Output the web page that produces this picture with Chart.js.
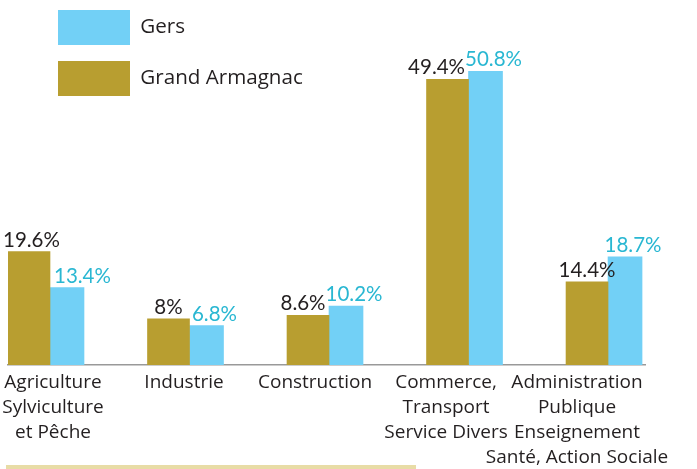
<!DOCTYPE html>
<html>
<head>
<meta charset="utf-8">
<script src="https://cdn.jsdelivr.net/npm/chart.js@4"></script>
<style>
html,body{margin:0;padding:0;background:#fff;overflow:hidden}
#wrap{position:relative;width:697px;height:469px}
#strip{position:absolute;left:6px;top:465px;width:410px;height:4px;background:#E8DCA6}
</style>
</head>
<body>
<div id="wrap"><canvas id="c" width="697" height="469"></canvas><div id="strip"></div></div>
<script>
// ---- data ----
const categories = [
  ["Agriculture", "Sylviculture", "et Pêche"],
  ["Industrie"],
  ["Construction"],
  ["Commerce,", "Transport", "Service Divers"],
  ["Administration", "Publique", "Enseignement", "Santé, Action Sociale"]
];
const seriesNames = ["Grand Armagnac", "Gers"];
const grandArmagnac = [19.6, 8, 8.6, 49.4, 14.4];
const gers = [13.4, 6.8, 10.2, 50.8, 18.7];

// ---- styles ----
const GOLD = '#B89E30';
const BLUE = '#72D0F6';
const BLUE_TEXT = '#29B7D2';
const DARK = '#231F20';
const LABEL_FONT = '20.5px Lato';

const toPoints = arr => arr.map((v, i) => ({ x: i, y: v }));

// value labels above each bar; avoid collisions with the neighbour label / bar
const valueLabels = {
  id: 'valueLabels',
  afterDatasetsDraw(chart) {
    const ctx = chart.ctx;
    ctx.save();
    ctx.font = LABEL_FONT;
    ctx.textAlign = 'center';
    ctx.textBaseline = 'alphabetic';
    const m0 = chart.getDatasetMeta(0), m1 = chart.getDatasetMeta(1);
    const d0 = chart.data.datasets[0], d1 = chart.data.datasets[1];
    const capH = 15;
    m0.data.forEach((e0, i) => {
      const e1 = m1.data[i];
      const t0 = String(d0.data[i].y) + '%';
      const t1 = String(d1.data[i].y) + '%';
      const w0 = ctx.measureText(t0).width, w1 = ctx.measureText(t1).width;
      let x0 = e0.x + d0.labelDx, x1 = e1.x + d1.labelDx;
      const y0 = e0.y - 5, y1 = e1.y - 5;
      // blue label sitting beside a taller gold bar: keep it clear of that bar
      const goldRight = e0.x + e0.width / 2;
      if (y1 - capH > e0.y && x1 - w1 / 2 < goldRight + 4) x1 = goldRight + 4 + w1 / 2;
      const overlapX = (x0 + w0 / 2) - (x1 - w1 / 2);
      const overlapY = Math.abs(y0 - y1) < capH;
      if (overlapX > 0 && overlapY) x0 -= overlapX;
      x0 = Math.max(x0, w0 / 2 + 3);
      ctx.fillStyle = d0.labelColor; ctx.fillText(t0, x0, y0);
      ctx.fillStyle = d1.labelColor; ctx.fillText(t1, x1, y1);
    });
    ctx.restore();
  }
};

const legendShift = {
  id: 'legendShift',
  afterLayout(chart) {
    const l = chart.legend;
    if (!l) return;
    l.left += 34; l.right += 34;
    l.top -= 6; l.bottom -= 6;
  }
};

new Chart(document.getElementById('c'), {
  type: 'bar',
  data: {
    datasets: [
      { label: seriesNames[0], data: toPoints(grandArmagnac), backgroundColor: GOLD,
        barThickness: 42, labelColor: DARK, labelDx: 0, xAxisID: 'x' },
      { label: seriesNames[1], data: toPoints(gers), backgroundColor: BLUE,
        barThickness: 34, labelColor: BLUE_TEXT, labelDx: 8, xAxisID: 'x' }
    ]
  },
  options: {
    responsive: false,
    animation: false,
    layout: { padding: { left: 8, right: 52, top: 18, bottom: 0 } },
    plugins: {
      legend: {
        position: 'chartArea',
        align: 'start',
        reverse: true,
        labels: {
          boxWidth: 72, boxHeight: 35, padding: 16, color: DARK,
          font: { family: 'Open Sans', size: 20.6 }
        }
      },
      tooltip: { enabled: false }
    },
    scales: {
      x: {
        type: 'linear', position: 'bottom',
        min: -0.301, max: 4.265, offset: false,
        grid: { display: false, drawTicks: false, offset: false },
        border: { display: true, color: '#999999', width: 1.5 },
        ticks: { display: false, stepSize: 1 }
      },
      xLabels: {
        type: 'linear', position: 'bottom', axis: 'x',
        min: -0.3435, max: 4.519, offset: false,
        grid: { display: false, drawTicks: false },
        border: { display: false },
        ticks: {
          stepSize: 1, includeBounds: false, autoSkip: false, maxRotation: 0, minRotation: 0,
          padding: 5, color: DARK,
          font: { family: 'Open Sans', size: 19, lineHeight: '25px' },
          callback: v => (Number.isInteger(v) && categories[v]) ? categories[v] : ''
        },
        afterFit: s => { s.paddingLeft = 0; s.paddingRight = 0; s.height -= 6; }
      },
      y: { display: false, min: 0, max: 60 }
    }
  },
  plugins: [valueLabels, legendShift]
});
</script>
</body>
</html>
